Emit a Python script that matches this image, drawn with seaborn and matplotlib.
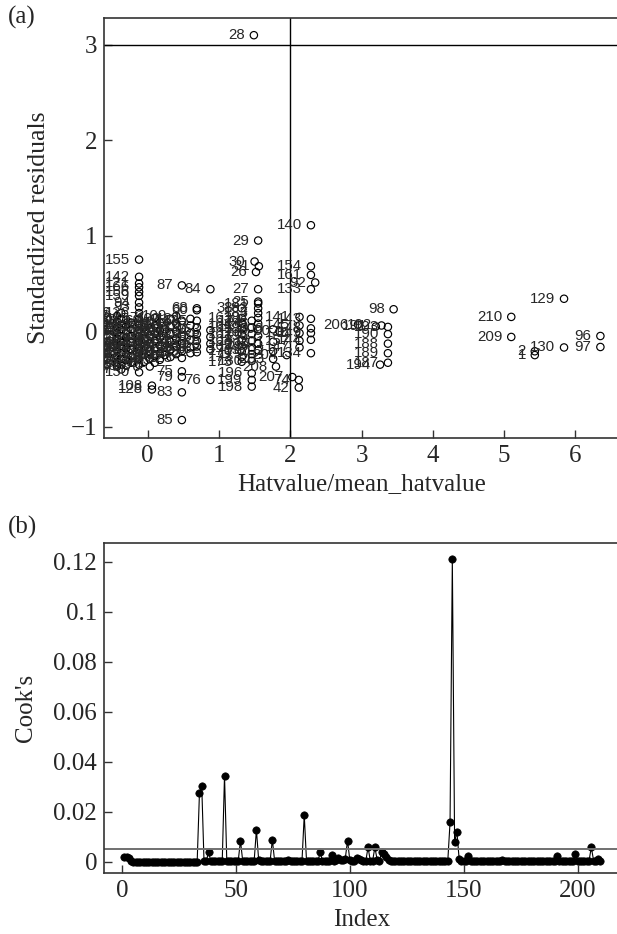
import numpy as np
import pandas as pd
import matplotlib
matplotlib.use("Agg")
import matplotlib.pyplot as plt
import seaborn as sns
from matplotlib.ticker import FuncFormatter

# ---- panel (a): observations that stand clear of the crowd ----
outer_id = [1, 2, 25, 26, 27, 28, 29, 30, 31, 38, 42, 60, 68, 74, 75, 76, 79, 83, 84, 85,
            87, 90, 92, 96, 97, 98, 108, 128, 129, 130, 133, 140, 142, 150, 154, 155, 161,
            187, 188, 189, 190, 191, 192, 193, 194, 196, 198, 199, 204, 205, 206, 207, 208,
            209, 210]
outer_hat = [5.43, 5.43, 1.55, 1.52, 1.55, 1.49, 1.55, 1.50, 1.56, 1.32, 2.12, 0.69, 0.69,
             2.12, 0.48, 0.88, 0.48, 0.48, 0.88, 0.48, 0.48, 1.85, 2.35, 6.35, 6.35, 3.45,
             0.06, 0.06, 5.84, 5.84, 2.29, 2.29, -0.12, -0.12, 2.29, -0.12, 2.29,
             3.37, 3.37, 3.37, 3.37, 3.20, 3.28, 3.37, 3.26, 1.46, 1.46, 1.46, 1.95, 1.55,
             2.95, 2.03, 1.80, 5.10, 5.10]
outer_res = [-0.25, -0.21, 0.31, 0.62, 0.44, 3.10, 0.95, 0.73, 0.68, 0.24, -0.59, 0.22, 0.24,
             -0.51, -0.42, -0.51, -0.48, -0.64, 0.44, -0.93, 0.48, 0.00, 0.51, -0.05, -0.165,
             0.23, -0.57, -0.61, 0.34, -0.17, 0.44, 1.11, 0.57, -0.43, 0.68, 0.75, 0.59,
             -0.33, -0.13, -0.23, -0.03, 0.05, 0.06, 0.045, -0.35, -0.44, -0.58, -0.51, -0.25,
             -0.13, 0.07, -0.48, -0.37, -0.06, 0.15]

# ---- panel (a): the dense block, one entry per column of points ----
col_hat = [-0.47, -0.43, -0.37, -0.30, -0.23, -0.12, -0.05, 0.03, 0.10, 0.17, 0.24, 0.32,
           0.40, 0.48, 0.60, 0.69, 0.88, 1.32, 1.46, 1.55, 1.76, 2.13, 2.29]
col_res = [
    [0.00, -0.15, -0.28],
    [0.16, 0.10, 0.04, -0.02, -0.08, -0.14, -0.20, -0.26, -0.32, -0.37],
    [0.19, 0.13, 0.07, 0.01, -0.05, -0.11, -0.17, -0.23, -0.29, -0.35, -0.40],
    [0.12, 0.06, 0.00, -0.06, -0.12, -0.18, -0.24, -0.30, -0.36],
    [0.09, 0.02, -0.05, -0.12, -0.19, -0.26, -0.33],
    [0.50, 0.46, 0.41, 0.37, 0.30, 0.25, 0.19, 0.13, 0.07, 0.01, -0.05, -0.11, -0.17,
     -0.23, -0.29, -0.35],
    [0.04, -0.08, -0.20, -0.32],
    [0.11, 0.03, -0.05, -0.13, -0.21, -0.29, -0.37],
    [0.14, 0.06, -0.02, -0.10, -0.18, -0.26, -0.33],
    [0.09, 0.01, -0.07, -0.15, -0.23, -0.30],
    [0.02, -0.12, -0.25],
    [0.13, 0.05, -0.03, -0.11, -0.19, -0.27],
    [0.16, 0.08, 0.00, -0.08, -0.16, -0.24],
    [0.11, 0.03, -0.05, -0.13, -0.21, -0.28],
    [0.13, 0.06, -0.02, -0.09, -0.17, -0.23],
    [0.11, 0.04, -0.03, -0.10, -0.16, -0.22],
    [0.01, -0.06, -0.13, -0.19],
    [0.14, 0.08, 0.03, -0.03, -0.09, -0.15, -0.21, -0.27, -0.32],
    [0.11, 0.04, -0.03, -0.10, -0.17, -0.24, -0.31],
    [0.29, 0.24, 0.19, 0.14, 0.08, 0.02, -0.05, -0.20],
    [0.02, -0.11, -0.21, -0.29],
    [0.15, 0.06, -0.02, -0.10, -0.17],
    [0.13, 0.03, -0.02, -0.09, -0.23],
]
col_ids = [
    [3, 4, 5],
    [7, 8, 9, 10, 11, 13, 14, 15, 16, 18],
    [19, 20, 21, 22, 23, 24, 32, 34, 35, 36, 37],
    [39, 40, 41, 43, 44, 45, 46, 47, 48],
    [49, 50, 51, 53, 54, 55, 56],
    [121, 166, 156, 159, 94, 93, 136, 115, 52, 17, 6, 64, 119, 171, 33, 12],
    [57, 58, 59, 61],
    [62, 63, 65, 66, 67, 69, 70],
    [71, 72, 73, 77, 78, 80, 81],
    [82, 86, 88, 89, 91, 95],
    [99, 100, 101],
    [102, 103, 104, 105, 106, 107],
    [109, 110, 111, 112, 113, 114],
    [116, 117, 118, 120, 122, 123],
    [124, 125, 126, 127, 131, 132],
    [135, 137, 138, 139, 151, 152],
    [153, 158, 160, 162],
    [163, 164, 165, 167, 168, 169, 170, 172, 173],
    [174, 175, 176, 177, 178, 179, 180],
    [181, 182, 183, 184, 185, 186, 195, 197],
    [200, 201, 202, 203],
    [141, 145, 146, 157, 147],
    [143, 148, 149, 144, 134],
]

# ---- panel (b): Cook's distance by observation index ----
cooks_d = [
    0.0021, 0.0019, 0.0016, 0.0002, 0.0001, 0.0001, 0.0001, 0.0001, 0.0001, 0.0001,
    0.0001, 0.0001, 0.0001, 0.0001, 0.0001, 0.0001, 0.0001, 0.0001, 0.0001, 0.0001,
    0.0001, 0.0001, 0.0001, 0.0001, 0.0001, 0.0001, 0.0001, 0.0001, 0.0001, 0.0001,
    0.0001, 0.0001, 0.0001, 0.0275, 0.0305, 0.0002, 0.0003, 0.0038, 0.0002, 0.0002,
    0.0002, 0.0002, 0.0002, 0.0002, 0.0345, 0.0003, 0.0002, 0.0002, 0.0002, 0.0002,
    0.0002, 0.0084, 0.0002, 0.0002, 0.0002, 0.0002, 0.0002, 0.0002, 0.0128, 0.0006,
    0.0002, 0.0002, 0.0002, 0.0002, 0.0002, 0.0088, 0.0002, 0.0002, 0.0002, 0.0002,
    0.0002, 0.0002, 0.0009, 0.0002, 0.0002, 0.0002, 0.0002, 0.0002, 0.0002, 0.0187,
    0.0002, 0.0002, 0.0002, 0.0002, 0.0002, 0.0002, 0.0038, 0.0003, 0.0003, 0.0003,
    0.0003, 0.0026, 0.0004, 0.0006, 0.0014, 0.0008, 0.0009, 0.0012, 0.0085, 0.0006,
    0.0004, 0.0003, 0.0016, 0.0010, 0.0006, 0.0004, 0.0002, 0.0058, 0.0004, 0.0003,
    0.0058, 0.0008, 0.0004, 0.0038, 0.0030, 0.0020, 0.0009, 0.0002, 0.0002, 0.0002,
    0.0002, 0.0002, 0.0002, 0.0002, 0.0002, 0.0002, 0.0002, 0.0002, 0.0002, 0.0002,
    0.0002, 0.0002, 0.0002, 0.0002, 0.0002, 0.0002, 0.0002, 0.0002, 0.0002, 0.0002,
    0.0002, 0.0002, 0.0002, 0.0158, 0.1210, 0.0078, 0.0121, 0.0010, 0.0003, 0.0003,
    0.0003, 0.0022, 0.0002, 0.0002, 0.0002, 0.0002, 0.0002, 0.0002, 0.0002, 0.0002,
    0.0002, 0.0002, 0.0002, 0.0002, 0.0002, 0.0002, 0.0009, 0.0002, 0.0002, 0.0002,
    0.0002, 0.0002, 0.0002, 0.0002, 0.0002, 0.0002, 0.0002, 0.0002, 0.0002, 0.0002,
    0.0002, 0.0002, 0.0002, 0.0002, 0.0002, 0.0002, 0.0002, 0.0002, 0.0002, 0.0002,
    0.0022, 0.0002, 0.0002, 0.0002, 0.0002, 0.0002, 0.0002, 0.0002, 0.0030, 0.0003,
    0.0003, 0.0003, 0.0003, 0.0003, 0.0003, 0.0058, 0.0005, 0.0003, 0.0013, 0.0004,
]
cook_cut = 0.0053
hat_cut = 2
res_cut = 3

# build the tables
rows = list(zip(outer_id, outer_hat, outer_res))
for h, rs, ids in zip(col_hat, col_res, col_ids):
    rows += [(i, h, r) for i, r in zip(ids, rs)]
infl = pd.DataFrame(rows, columns=["obs", "hat", "res"]).sort_values("obs")
cook = pd.DataFrame({"Index": np.arange(1, len(cooks_d) + 1), "cook": cooks_d})

sns.set_style("ticks")
plt.rcParams["font.family"] = ["Liberation Serif", "DejaVu Serif"]

fig = plt.figure(figsize=(6.17, 9.34), dpi=100)
W, H = 617, 934
ax1 = fig.add_axes([104 / W, 1 - 437.7 / H, 516 / W, 419.7 / H])
ax2 = fig.add_axes([104 / W, 61 / H, 516 / W, 330 / H])

# panel (a)
sns.scatterplot(data=infl, x="hat", y="res", ax=ax1, marker="o", s=28, legend=False)
pts = ax1.collections[0]
pts.set_facecolor("none")
pts.set_edgecolor("black")
pts.set_linewidth(0.85)
for _, r in infl.iterrows():
    ax1.annotate(str(int(r["obs"])), (r["hat"], r["res"]), xytext=(-6.5, 0),
                 textcoords="offset points", ha="right", va="center", fontsize=10.8,
                 family=["Liberation Sans", "DejaVu Sans"], clip_on=True)
ax1.axvline(hat_cut, color="black", lw=1.0)
ax1.axhline(res_cut, color="black", lw=1.0)
ax1.set_xlim(-0.612, 6.625)
ax1.set_ylim(-1.115, 3.28)
ax1.set_xticks(range(0, 7))
ax1.set_yticks(range(-1, 4))
ax1.set_xlabel("Hatvalue/mean_hatvalue", fontsize=18)
ax1.set_ylabel("Standardized residuals", fontsize=18.5)
ax1.xaxis.set_label_coords(0.5, -0.085)
ax1.yaxis.set_label_coords(-0.105, 0.5)

# panel (b)
sns.lineplot(data=cook, x="Index", y="cook", ax=ax2, color="black", lw=0.8,
             marker="o", markersize=5.3, markeredgecolor="black", markeredgewidth=0.5)
ax2.axhline(cook_cut, color="#707070", lw=1.4)
ax2.set_xlim(-7.9, 218.6)
ax2.set_ylim(-0.0045, 0.1275)
ax2.set_xticks([0, 50, 100, 150, 200])
ax2.set_yticks([0, 0.02, 0.04, 0.06, 0.08, 0.1, 0.12])
ax2.yaxis.set_major_formatter(FuncFormatter(lambda v, _: f"{v:g}"))
ax2.set_xlabel("Index", fontsize=18)
ax2.set_ylabel("Cook's", fontsize=18)
ax2.xaxis.set_label_coords(0.5, -0.11)
ax2.yaxis.set_label_coords(-0.13, 0.5)

for ax in (ax1, ax2):
    ax.tick_params(direction="in", length=6, width=1.0, labelsize=18, pad=5,
                   color="#333333")
    for sp in ax.spines.values():
        sp.set_visible(True)
        sp.set_linewidth(1.2)
        sp.set_color("#333333")

fig.text(8 / W, 1 - 17 / H, "(a)", fontsize=18, va="center", ha="left")
fig.text(8 / W, 1 - 527 / H, "(b)", fontsize=18, va="center", ha="left")

fig.savefig("out.png", dpi=100)
